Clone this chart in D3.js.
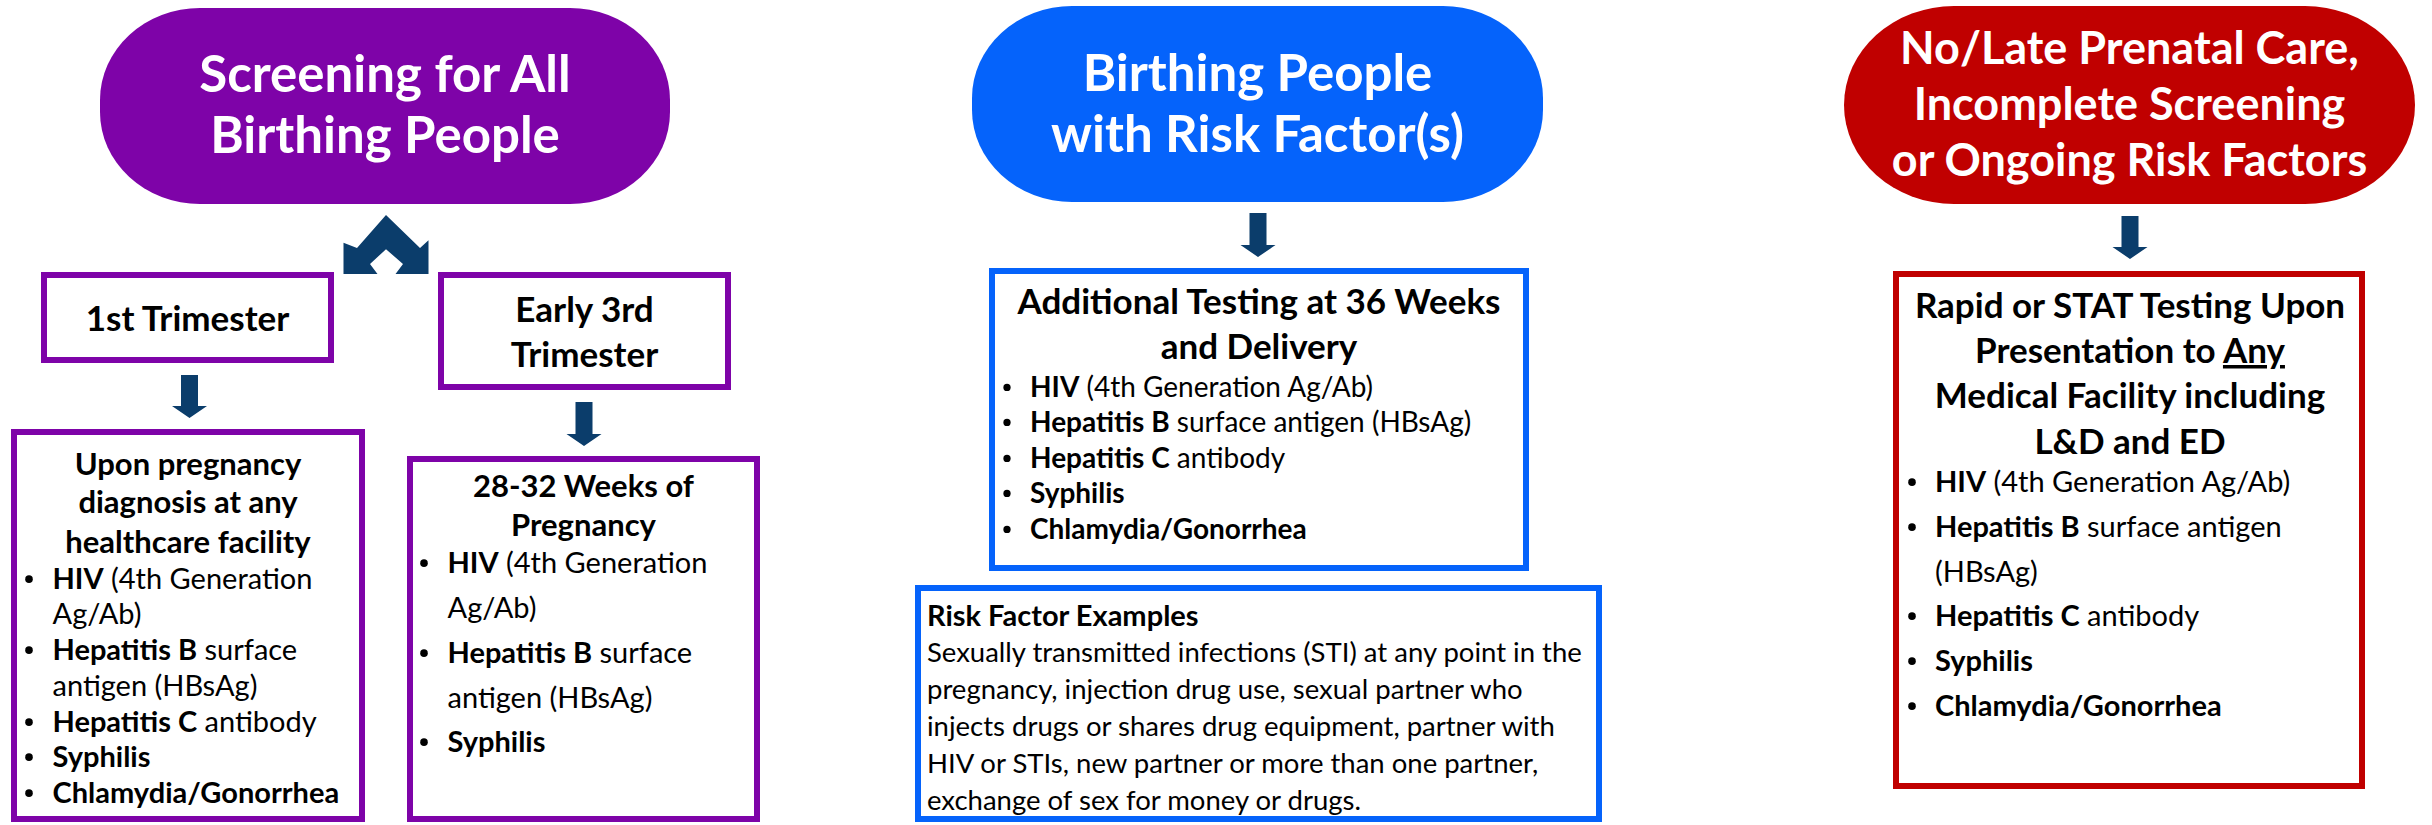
<!DOCTYPE html>
<html>
<head>
<meta charset="utf-8">
<script src="https://cdn.jsdelivr.net/npm/d3@7"></script>
<style>
  body { margin: 0; background: #fff; }
  text { font-family: Lato, 'Open Sans', sans-serif; white-space: pre; }
</style>
</head>
<body>
<div id="chart"></div>
<script>
// ---- content ----
// *bold*  _underline_  leading • = bullet item
const pillTitles = [
	['Screening for All', 'Birthing People'],
	['Birthing People', 'with Risk Factor(s)'],
	['No/Late Prenatal Care,', 'Incomplete Screening', 'or Ongoing Risk Factors']
];

const firstTriTitle = ['1st Trimester'];
const thirdTriTitle = ['Early 3rd', 'Trimester'];

const firstTriHead = ['Upon pregnancy', 'diagnosis at any', 'healthcare facility'];
const firstTriItems = [
	'•*HIV* (4th Generation',
	' Ag/Ab)',
	'•*Hepatitis B* surface',
	' antigen (HBsAg)',
	'•*Hepatitis C* antibody',
	'•*Syphilis*',
	'•*Chlamydia/Gonorrhea*'
];

const thirdTriHead = ['28-32 Weeks of', 'Pregnancy'];
const thirdTriItems = [
	'•*HIV* (4th Generation',
	' Ag/Ab)',
	'•*Hepatitis B* surface',
	' antigen (HBsAg)',
	'•*Syphilis*'
];

const riskHead = ['Additional Testing at 36 Weeks', 'and Delivery'];
const riskItems = [
	'•*HIV* (4th Generation Ag/Ab)',
	'•*Hepatitis B* surface antigen (HBsAg)',
	'•*Hepatitis C* antibody',
	'•*Syphilis*',
	'•*Chlamydia/Gonorrhea*'
];

const examplesHead = ['Risk Factor Examples'];
const examplesText = [
	'Sexually transmitted infections (STI) at any point in the',
	'pregnancy, injection drug use, sexual partner who',
	'injects drugs or shares drug equipment, partner with',
	'HIV or STIs, new partner or more than one partner,',
	'exchange of sex for money or drugs.'
];

const lateHead = ['Rapid or STAT Testing Upon', 'Presentation to _Any_', 'Medical Facility including', 'L&D and ED'];
const lateItems = [
	'•*HIV* (4th Generation Ag/Ab)',
	'•*Hepatitis B* surface antigen',
	' (HBsAg)',
	'•*Hepatitis C* antibody',
	'•*Syphilis*',
	'•*Chlamydia/Gonorrhea*'
];

// ---- colours ----
const purple = '#7e03a8';
const blue = '#0563fb';
const red = '#c00000';
const navy = '#0b3d6b';

const width = 2432, height = 825;

const svg = d3.select('#chart').append('svg')
	.attr('width', width)
	.attr('height', height);

svg.append('rect').attr('width', width).attr('height', height).attr('fill', '#fff');

// split a line into styled runs
function runs(s) {
	const out = [];
	let bold = false, ul = false, buf = '';
	for (const ch of s) {
		if (ch === '*' || ch === '_') {
			if (buf) out.push({ t: buf, bold, ul });
			buf = '';
			if (ch === '*') bold = !bold; else ul = !ul;
		} else buf += ch;
	}
	if (buf) out.push({ t: buf, bold, ul });
	return out;
}

function pill(o, lines, color) {
	svg.append('rect')
		.attr('x', o.x).attr('y', o.y)
		.attr('width', o.w).attr('height', o.h)
		.attr('rx', o.rx).attr('ry', o.ry)
		.attr('fill', color);
	svg.selectAll(null).data(lines).enter().append('text')
		.attr('x', o.x + o.w / 2)
		.attr('y', (d, i) => o.base[i])
		.attr('text-anchor', 'middle')
		.attr('fill', '#fff')
		.attr('font-weight', 700)
		.attr('font-size', o.size)
		.text(d => d);
}

function box(o, color) {
	const sw = 6;
	svg.append('rect')
		.attr('x', o.x0 + sw / 2).attr('y', o.y0 + sw / 2)
		.attr('width', o.x1 - o.x0 - sw).attr('height', o.y1 - o.y0 - sw)
		.attr('fill', '#fff')
		.attr('stroke', color)
		.attr('stroke-width', sw);
}

// centred bold heading lines
function heading(lines, cx, base, size) {
	lines.forEach((line, i) => {
		const t = svg.append('text')
			.attr('x', cx).attr('y', base[i])
			.attr('text-anchor', 'middle')
			.attr('font-weight', 700)
			.attr('font-size', size)
			.attr('fill', '#000');
		runs(line).forEach(r => {
			t.append('tspan').text(r.t)
				.style('text-decoration', r.ul ? 'underline' : null);
		});
	});
}

// bullet list / plain lines
function list(lines, o) {
	lines.forEach((line, i) => {
		let bullet = false;
		if (line[0] === '•') { bullet = true; line = line.slice(1); }
		else if (line[0] === ' ') line = line.slice(1);
		if (bullet) {
			svg.append('circle')
				.attr('cx', o.bx).attr('cy', o.base[i] - o.size * 0.34)
				.attr('r', o.size * 0.13)
				.attr('fill', '#000');
		}
		const t = svg.append('text')
			.attr('x', o.tx).attr('y', o.base[i])
			.attr('font-size', o.size)
			.attr('fill', '#000');
		runs(line).forEach(r => {
			t.append('tspan').text(r.t)
				.attr('font-weight', r.bold || o.bold ? 700 : 400);
		});
	});
}

function downArrow(cx, top, bottom) {
	const sw = 8.5, hw = 17.5, hh = 12;
	const pts = [
		[cx - sw, top], [cx + sw, top], [cx + sw, bottom - hh], [cx + hw, bottom - hh],
		[cx, bottom], [cx - hw, bottom - hh], [cx - sw, bottom - hh]
	];
	svg.append('path').attr('d', d3.line()(pts) + 'Z').attr('fill', navy);
}

// split arrow pointing up from both trimester boxes
function splitArrow(cx, top, bottom) {
	const h = bottom - top;
	const p = (dx, dy) => [cx + dx, top + dy * h];
	const pts = [
		p(0, 0), p(34, 0.56), p(42.5, 0.43), p(42.5, 1), p(9.5, 1), p(17, 0.83),
		p(0, 0.58), p(-16, 0.83), p(-8.5, 1), p(-42.5, 1), p(-42.5, 0.47), p(-29, 0.56)
	];
	svg.append('path').attr('d', d3.line()(pts) + 'Z').attr('fill', navy);
}

// ---- column 1 ----
pill({ x: 100, y: 8, w: 570, h: 196, rx: 100, ry: 92, base: [92, 153], size: 51 }, pillTitles[0], purple);
splitArrow(386, 215, 274);

box({ x0: 41, y0: 272, x1: 334, y1: 363 }, purple);
heading(firstTriTitle, 187.5, [331], 35);
box({ x0: 438, y0: 272, x1: 731, y1: 390 }, purple);
heading(thirdTriTitle, 584.5, [322, 367], 35);

downArrow(189.5, 375, 418);
downArrow(584, 402, 446);

box({ x0: 11, y0: 429, x1: 365, y1: 822 }, purple);
heading(firstTriHead, 188, [475, 513, 553], 31);
list(firstTriItems, { bx: 29, tx: 52.5, size: 29, base: [589, 624, 660, 696, 732, 767, 803] });

box({ x0: 407, y0: 456, x1: 760, y1: 822 }, purple);
heading(thirdTriHead, 583.5, [497, 536], 31);
list(thirdTriItems, { bx: 424, tx: 447.5, size: 29, base: [573, 618, 663, 708, 752] });

// ---- column 2 ----
pill({ x: 972, y: 6, w: 571, h: 196, rx: 100, ry: 92, base: [91, 152], size: 51 }, pillTitles[1], blue);
downArrow(1258, 213, 257);

box({ x0: 989, y0: 268, x1: 1529, y1: 571 }, blue);
heading(riskHead, 1259, [314, 359], 35);
list(riskItems, { bx: 1007, tx: 1030, size: 28, base: [397, 432, 468, 503, 539] });

box({ x0: 915, y0: 585, x1: 1602, y1: 822 }, blue);
list(examplesHead, { bx: 0, tx: 927, size: 29, bold: true, base: [626] });
list(examplesText, { bx: 0, tx: 927, size: 27.5, base: [662, 699, 736, 773, 810] });

// ---- column 3 ----
pill({ x: 1844, y: 6, w: 571, h: 198, rx: 110, ry: 99, base: [64, 120, 176], size: 45 }, pillTitles[2], red);
downArrow(2130, 216, 259);

box({ x0: 1893, y0: 271, x1: 2365, y1: 789 }, red);
heading(lateHead, 2130, [318, 363, 408, 454], 35);
list(lateItems, { bx: 1912, tx: 1935, size: 29, base: [492, 537, 582, 626, 671, 716] });
</script>
</body>
</html>
